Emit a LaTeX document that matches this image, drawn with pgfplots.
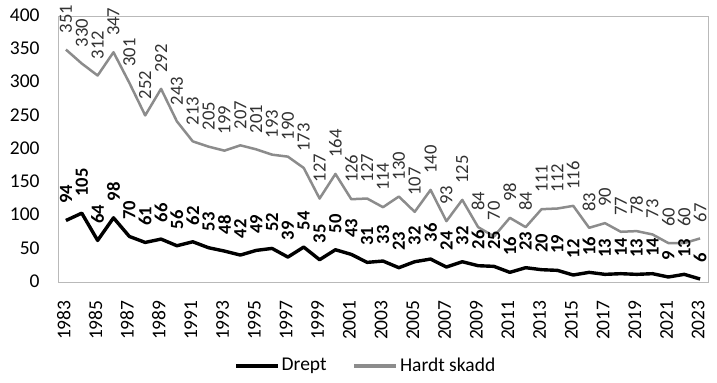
\documentclass[border=0pt]{standalone}
\usepackage{fontspec}
\setmainfont{Carlito}
\usepackage{pgfplots}
\usepackage{pgfplotstable}
\pgfplotsset{compat=1.18}
\definecolor{gline}{RGB}{140,140,140}
\definecolor{glabel}{RGB}{50,50,50}
\pgfplotstableread{
year d h
1983 94 351
1984 105 330
1985 64 312
1986 98 347
1987 70 301
1988 61 252
1989 66 292
1990 56 243
1991 62 213
1992 53 205
1993 48 199
1994 42 207
1995 49 201
1996 52 193
1997 39 190
1998 54 173
1999 35 127
2000 50 164
2001 43 126
2002 31 127
2003 33 114
2004 23 130
2005 32 107
2006 36 140
2007 24 93
2008 32 125
2009 26 84
2010 25 70
2011 16 98
2012 23 84
2013 20 111
2014 19 112
2015 12 116
2016 16 83
2017 13 90
2018 14 77
2019 13 78
2020 14 73
2021 9 60
2022 13 60
2023 6 67
}\data
\begin{document}
\begin{tikzpicture}
\begin{axis}[
  name=ax,
  scale only axis,
  width=325pt, height=133pt,
  xmin=1982.5, xmax=2023.5,
  ymin=0, ymax=400,
  ytick={0,50,...,400},
  xtick={1983,1985,...,2023},
  /pgf/number format/.cd, assume math mode=true, 1000 sep={}, /pgfplots/.cd,
  tick label style={font=\fontsize{9.75}{11}\selectfont},
  xticklabel style={rotate=90, anchor=east, inner sep=0pt},
  yticklabel style={anchor=east, inner sep=0pt},
  typeset ticklabels with strut,
  xticklabel shift=8.5pt,
  yticklabel shift=9pt,
  major tick length=0pt,
  axis line style={gray!55, line width=0.5pt},
  clip=false,
  legend style={at={(0.4735,-0.312)}, anchor=center, draw=none, legend columns=2,
    font=\fontsize{9.75}{11}\selectfont,
    /tikz/every even column/.append style={column sep=12pt},
    nodes={inner xsep=1pt}},
  legend image code/.code={\draw[#1, line width=1.7pt] (0pt,0pt) -- (21pt,0pt);},
]
\addplot[black, line width=1.7pt, line join=round,
  nodes near coords,
  nodes near coords style={font=\bfseries\fontsize{9.3}{10}\selectfont, text=black, rotate=90, anchor=west, inner xsep=7.5pt, inner ysep=0pt}]
  table[x=year, y=d]{\data};
\addlegendentry{Drept}
\addplot[gline, line width=1.25pt, line join=round,
  nodes near coords,
  nodes near coords style={font=\fontsize{9.3}{10}\selectfont, text=glabel, rotate=90, anchor=west, inner xsep=7.5pt, inner ysep=0pt}]
  table[x=year, y=h]{\data};
\addlegendentry{Hardt skadd}
\end{axis}
\pgfresetboundingbox
\path[use as bounding box] ([xshift=-29pt, yshift=-50pt]ax.south west) rectangle ([xshift=4.5pt, yshift=8.5pt]ax.north east);
\end{tikzpicture}
\end{document}
